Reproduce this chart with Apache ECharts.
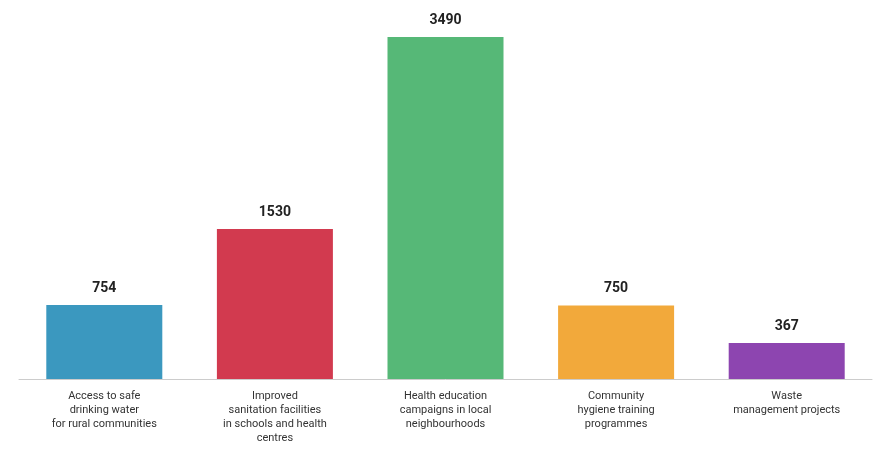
<!DOCTYPE html>
<html>
<head>
<meta charset="utf-8">
<script src="https://cdn.jsdelivr.net/npm/echarts@6/dist/echarts.min.js"></script>
<style>html,body{margin:0;padding:0;background:#fff}#c{width:875px;height:462px}</style>
</head>
<body>
<div id="c"></div>
<script>
const categories = [
  "Access to safe\ndrinking water\nfor rural communities",
  "Improved\nsanitation facilities\nin schools and health\ncentres",
  "Health education\ncampaigns in local\nneighbourhoods",
  "Community\nhygiene training\nprogrammes",
  "Waste\nmanagement projects"
];
const values = [754, 1530, 3490, 750, 367];
const colors = ["#3b98bf", "#d23a4f", "#56b877", "#f2a93b", "#8d45b0"];

const chart = echarts.init(document.getElementById('c'));
chart.setOption({
  animation: false,
  grid: { left: 19, right: 3, top: 37, bottom: 83 },
  xAxis: {
    type: 'category',
    data: categories,
    axisLine: { lineStyle: { color: '#cccccc' } },
    axisTick: { show: false },
    axisLabel: { interval: 0, color: '#333', fontSize: 11, lineHeight: 14, margin: 10, fontFamily: 'Roboto, sans-serif' }
  },
  yAxis: { type: 'value', min: 0, max: 3490, show: false, splitLine: { show: false } },
  series: [{
    type: 'bar',
    barCategoryGap: '32%',
    data: values.map((v, i) => ({ value: v, itemStyle: { color: colors[i] } })),
    label: { show: true, position: 'top', color: '#222', fontSize: 14, fontWeight: 'bold', distance: 10, fontFamily: 'Roboto, sans-serif' }
  }]
});
</script>
</body>
</html>
